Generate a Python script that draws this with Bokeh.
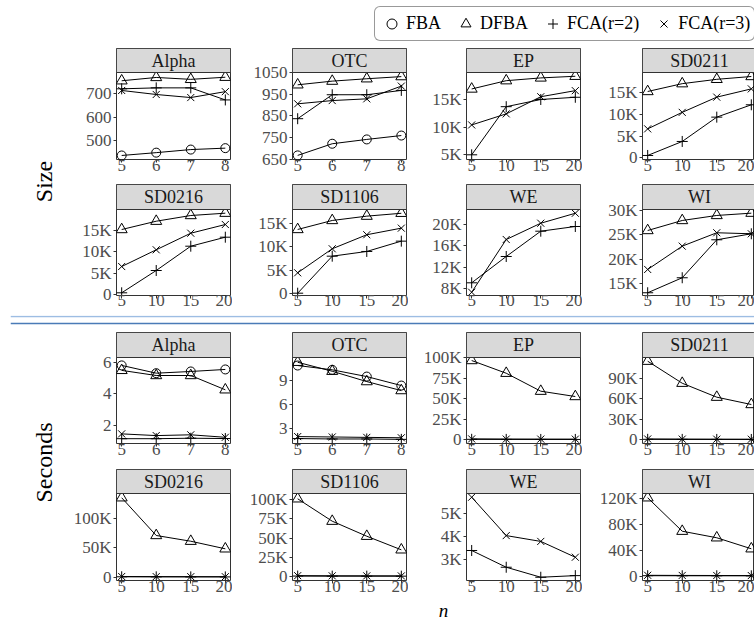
import math
from bokeh.plotting import figure
from bokeh.layouts import column, row
from bokeh.models import (Range1d, FixedTicker, Label, Span, Legend, LegendItem,
                          BoxAnnotation)
from bokeh.embed import file_html
from bokeh.resources import INLINE

# ---------------- data ----------------
n_small = [5, 6, 7, 8]
n_large = [5, 10, 15, 20]

# Size
size_alpha_fba = [438, 450, 463, 469]
size_alpha_dfba = [754, 768, 760, 769]
size_alpha_fca2 = [720, 724, 724, 673]
size_alpha_fca3 = [713, 696, 683, 708]

size_otc_fba = [667, 721, 741, 759]
size_otc_dfba = [994, 1011, 1022, 1032]
size_otc_fca2 = [837, 948, 948, 968]
size_otc_fca3 = [906, 921, 929, 988]

size_ep_dfba = [16900, 18400, 18900, 19200]
size_ep_fca2 = [5000, 13700, 15000, 15400]
size_ep_fca3 = [10400, 12400, 15500, 16600]

size_sd0211_dfba = [15300, 17100, 18100, 18750]
size_sd0211_fca2 = [580, 3800, 9400, 12240]
size_sd0211_fca3 = [6700, 10500, 14000, 15900]

size_sd0216_dfba = [15230, 17170, 18500, 19040]
size_sd0216_fca2 = [470, 5670, 11340, 13440]
size_sd0216_fca3 = [6600, 10500, 14370, 16400]

size_sd1106_dfba = [13660, 15570, 16490, 17100]
size_sd1106_fca2 = [130, 7990, 8990, 11180]
size_sd1106_fca3 = [4460, 9560, 12540, 13940]

size_we_fca2 = [9120, 14030, 18750, 19630]
size_we_fca3 = [7360, 17200, 20240, 22100]

size_wi_dfba = [25900, 27950, 28980, 29450]
size_wi_fca2 = [13160, 16230, 24000, 25230]
size_wi_fca3 = [17930, 22700, 25440, 25230]

# Seconds
sec_alpha_fba = [5.84, 5.34, 5.45, 5.58]
sec_alpha_dfba = [5.52, 5.19, 5.19, 4.27]
sec_alpha_fca2 = [1.12, 1.12, 1.15, 1.13]
sec_alpha_fca3 = [1.43, 1.32, 1.37, 1.21]

sec_otc_fba = [10.89, 10.35, 9.50, 8.37]
sec_otc_dfba = [11.30, 10.17, 8.87, 7.74]
sec_otc_fca2 = [1.70, 1.65, 1.65, 1.60]
sec_otc_fca3 = [1.95, 1.90, 1.85, 1.80]

sec_ep_dfba = [96700, 81200, 59300, 52800]
sec_ep_fca2 = [600, 500, 450, 450]
sec_ep_fca3 = [1100, 900, 850, 800]

sec_sd0211_dfba = [114900, 82700, 62300, 51600]
sec_sd0211_fca2 = [700, 600, 550, 500]
sec_sd0211_fca3 = [1200, 1000, 900, 850]

sec_sd0216_dfba = [136000, 71400, 61600, 48600]
sec_sd0216_fca2 = [700, 600, 550, 500]
sec_sd0216_fca3 = [1200, 1000, 900, 850]

sec_sd1106_dfba = [101300, 72100, 52500, 34800]
sec_sd1106_fca2 = [600, 500, 450, 450]
sec_sd1106_fca3 = [1100, 900, 850, 800]

sec_we_fca2 = [3400, 2680, 2250, 2320]
sec_we_fca3 = [5690, 4040, 3790, 3110]

sec_wi_dfba = [120600, 69200, 59100, 42200]
sec_wi_fca2 = [800, 700, 650, 600]
sec_wi_fca3 = [1400, 1200, 1100, 1000]

series_labels = ["FBA", "DFBA", "FCA(r=2)", "FCA(r=3)"]

# panel definitions: (title, x, {series: values}, y range, y ticks)
size_panels = [
    ("Alpha", n_small, {"FBA": size_alpha_fba, "DFBA": size_alpha_dfba,
                        "FCA(r=2)": size_alpha_fca2, "FCA(r=3)": size_alpha_fca3},
     (421, 789), [500, 600, 700]),
    ("OTC", n_small, {"FBA": size_otc_fba, "DFBA": size_otc_dfba,
                      "FCA(r=2)": size_otc_fca2, "FCA(r=3)": size_otc_fca3},
     (648, 1051), [650, 750, 850, 950, 1050]),
    ("EP", n_large, {"DFBA": size_ep_dfba, "FCA(r=2)": size_ep_fca2, "FCA(r=3)": size_ep_fca3},
     (4150, 19880), [5000, 10000, 15000]),
    ("SD0211", n_large, {"DFBA": size_sd0211_dfba, "FCA(r=2)": size_sd0211_fca2,
                         "FCA(r=3)": size_sd0211_fca3},
     (-350, 19670), [0, 5000, 10000, 15000]),
    ("SD0216", n_large, {"DFBA": size_sd0216_dfba, "FCA(r=2)": size_sd0216_fca2,
                         "FCA(r=3)": size_sd0216_fca3},
     (-160, 19900), [0, 5000, 10000, 15000]),
    ("SD1106", n_large, {"DFBA": size_sd1106_dfba, "FCA(r=2)": size_sd1106_fca2,
                         "FCA(r=3)": size_sd1106_fca3},
     (-360, 17900), [0, 5000, 10000, 15000]),
    ("WE", n_large, {"FCA(r=2)": size_we_fca2, "FCA(r=3)": size_we_fca3},
     (6750, 22800), [8000, 12000, 16000, 20000]),
    ("WI", n_large, {"DFBA": size_wi_dfba, "FCA(r=2)": size_wi_fca2, "FCA(r=3)": size_wi_fca3},
     (12600, 30200), [15000, 20000, 25000, 30000]),
]

sec_panels = [
    ("Alpha", n_small, {"FBA": sec_alpha_fba, "DFBA": sec_alpha_dfba,
                        "FCA(r=2)": sec_alpha_fca2, "FCA(r=3)": sec_alpha_fca3},
     (0.81, 6.35), [2, 4, 6]),
    ("OTC", n_small, {"FBA": sec_otc_fba, "DFBA": sec_otc_dfba,
                      "FCA(r=2)": sec_otc_fca2, "FCA(r=3)": sec_otc_fca3},
     (1.08, 11.9), [3, 6, 9]),
    ("EP", n_large, {"DFBA": sec_ep_dfba, "FCA(r=2)": sec_ep_fca2, "FCA(r=3)": sec_ep_fca3},
     (-4500, 100400), [0, 25000, 50000, 75000, 100000]),
    ("SD0211", n_large, {"DFBA": sec_sd0211_dfba, "FCA(r=2)": sec_sd0211_fca2,
                         "FCA(r=3)": sec_sd0211_fca3},
     (-5400, 120300), [0, 30000, 60000, 90000]),
    ("SD0216", n_large, {"DFBA": sec_sd0216_dfba, "FCA(r=2)": sec_sd0216_fca2,
                         "FCA(r=3)": sec_sd0216_fca3},
     (-5650, 143300), [0, 50000, 100000]),
    ("SD1106", n_large, {"DFBA": sec_sd1106_dfba, "FCA(r=2)": sec_sd1106_fca2,
                         "FCA(r=3)": sec_sd1106_fca3},
     (-5200, 108200), [0, 25000, 50000, 75000, 100000]),
    ("WE", n_large, {"FCA(r=2)": sec_we_fca2, "FCA(r=3)": sec_we_fca3},
     (2110, 5850), [3000, 4000, 5000]),
    ("WI", n_large, {"DFBA": sec_wi_dfba, "FCA(r=2)": sec_wi_fca2, "FCA(r=3)": sec_wi_fca3},
     (-6600, 127200), [0, 40000, 80000, 120000]),
]

# ---------------- style ----------------
FONT = "Liberation Serif"
TICK_TEXT = "#4d4d4d"
BORDER = "#333333"
STRIP_FILL = "#d9d9d9"
MARKERS = {"FBA": ("circle", 9), "DFBA": ("triangle", 11),
           "FCA(r=2)": ("cross", 11), "FCA(r=3)": ("x", 10)}

LABEL_W = 70
COL_LEFT = [46, 60, 58, 60]
COL_RIGHT = [2, 2, 2, 0]
COL_FRAME = [114, 114, 114, 112]
ROWS = [
    dict(top=2, strip_h=24, frame_h=87, bottom=25, xstand=-3),
    dict(top=0, strip_h=25, frame_h=86, bottom=20, xstand=-4),
    dict(top=0, strip_h=25, frame_h=86, bottom=26, xstand=-3),
    dict(top=0, strip_h=24, frame_h=87, bottom=19, xstand=-3),
]


def tick_labels(ticks):
    if max(ticks) >= 3000:
        return {t: ("0" if t == 0 else f"{int(round(t / 1000))}K") for t in ticks}
    return {t: str(t) for t in ticks}


def make_panel(spec, col, cfg):
    title, xs, series, yr, yticks = spec
    w = COL_LEFT[col] + COL_FRAME[col] + COL_RIGHT[col]
    span = xs[-1] - xs[0]
    xlo, xhi_full = xs[0] - 0.05 * span, xs[-1] + 0.05 * span
    xhi = xlo + (xhi_full - xlo) * COL_FRAME[col] / 114.0
    lo, hi = yr
    # the facet strip sits inside the frame, above the data area
    hi_ext = hi + (hi - lo) * cfg["strip_h"] / cfg["frame_h"]
    p = figure(width=w, height=cfg["top"] + cfg["strip_h"] + cfg["frame_h"] + cfg["bottom"],
               title=None, x_range=Range1d(xlo, xhi), y_range=Range1d(lo, hi_ext),
               output_backend="svg", toolbar_location=None,
               min_border_left=COL_LEFT[col], min_border_right=COL_RIGHT[col],
               min_border_top=cfg["top"], min_border_bottom=cfg["bottom"])
    p.grid.visible = False
    p.outline_line_color = BORDER
    p.outline_line_width = 1
    p.background_fill_color = "white"
    p.border_fill_color = "white"

    p.xaxis.ticker = FixedTicker(ticks=xs)
    p.yaxis.ticker = FixedTicker(ticks=yticks)
    p.yaxis.major_label_overrides = tick_labels(yticks)
    for ax in (p.xaxis, p.yaxis):
        ax.axis_line_color = None
        ax.major_tick_line_color = BORDER
        ax.major_tick_out = 3
        ax.major_tick_in = 0
        ax.minor_tick_line_color = None
        ax.major_label_text_font = FONT
        ax.major_label_text_font_size = "17px"
        ax.major_label_text_color = TICK_TEXT
    p.xaxis.major_label_standoff = cfg["xstand"]
    p.yaxis.major_label_standoff = 2

    for name in series_labels:
        if name not in series:
            continue
        ys = series[name]
        marker, size = MARKERS[name]
        p.line(xs, ys, line_color="black", line_width=1)
        p.scatter(xs, ys, marker=marker, size=size, fill_color=None,
                  line_color="black", line_width=1)

    p.add_layout(BoxAnnotation(bottom=hi, top=hi_ext, fill_color=STRIP_FILL, fill_alpha=1,
                               line_color=BORDER, line_width=1, line_alpha=1))
    p.add_layout(Label(x=(xlo + xhi_full) / 2, y=(hi + hi_ext) / 2, text=title,
                       text_align="center", text_baseline="middle", text_font=FONT,
                       text_font_size="18px", text_color="#1a1a1a"))
    return p


def make_section(panels, row_cfgs, label, label_y_from_top):
    parts = []
    total_h = 0
    for r, cfg in enumerate(row_cfgs):
        specs = panels[r * 4:(r + 1) * 4]
        parts.append(row(*[make_panel(s, c, cfg) for c, s in enumerate(specs)]))
        total_h += cfg["top"] + cfg["strip_h"] + cfg["frame_h"] + cfg["bottom"]
    lab = figure(width=LABEL_W, height=total_h, title=None,
                 x_range=Range1d(0, 1), y_range=Range1d(0, 1),
                 x_axis_type=None, y_axis_type=None,
                 output_backend="svg", toolbar_location=None, min_border=0)
    lab.outline_line_color = None
    lab.add_layout(Label(x=43, y=total_h - label_y_from_top, x_units="screen",
                         y_units="screen", text=label, angle=math.pi / 2,
                         text_align="center", text_baseline="middle",
                         text_font=FONT, text_font_size="24px", text_color="black"))
    return row(lab, column(*parts))


# ---------------- legend ----------------
leg = figure(width=754, height=46, title=None, x_range=Range1d(0, 1), y_range=Range1d(0, 1),
             x_axis_type=None, y_axis_type=None, output_backend="svg",
             toolbar_location=None, min_border=0)
leg.outline_line_color = None
items = []
for name in series_labels:
    marker, size = MARKERS[name]
    # proxy glyph for the legend key; its point lies outside the visible range
    r = leg.scatter(x=[n_small[0]], y=[n_small[0]], marker=marker, size=size,
                    fill_color=None, line_color="black", line_width=1)
    items.append(LegendItem(label=name, renderers=[r]))
legend = Legend(items=items, orientation="horizontal", location=(364, 5),
                label_text_font=FONT, label_text_font_size="18px",
                label_text_color="black", glyph_width=25, glyph_height=25,
                label_height=18, label_standoff=2, spacing=12, padding=4,
                margin=0, border_line_color=BORDER, border_line_width=1,
                background_fill_color="white", background_fill_alpha=1)
try:
    if "border_radius" in Legend.properties():
        legend.border_radius = 6
except Exception:
    pass
leg.add_layout(legend)

# ---------------- separator ----------------
sep = figure(width=754, height=17, title=None, x_range=Range1d(0, 1), y_range=Range1d(0, 17),
             x_axis_type=None, y_axis_type=None, output_backend="svg",
             toolbar_location=None, min_border=0, min_border_left=10)
sep.outline_line_color = None
sep.add_layout(Span(location=16, dimension="width", line_color="#9dbde3", line_width=1.5))
sep.add_layout(Span(location=9, dimension="width", line_color="#4a7bb7", line_width=1.5))

# ---------------- x axis title ----------------
xl = figure(width=754, height=21, title=None, x_range=Range1d(0, 1), y_range=Range1d(0, 1),
            x_axis_type=None, y_axis_type=None, output_backend="svg",
            toolbar_location=None, min_border=0)
xl.outline_line_color = None
xl.add_layout(Label(x=433, y=10.5, x_units="screen", y_units="screen", text="n",
                    text_align="center", text_baseline="middle", text_font=FONT,
                    text_font_style="italic", text_font_size="19px", text_color="black"))

sec1 = make_section(size_panels, ROWS[:2], "Size", 135)
sec2 = make_section(sec_panels, ROWS[2:], "Seconds", 130)

page = column(leg, sec1, sep, sec2, xl)
open("out.html", "w").write(file_html(page, INLINE))
